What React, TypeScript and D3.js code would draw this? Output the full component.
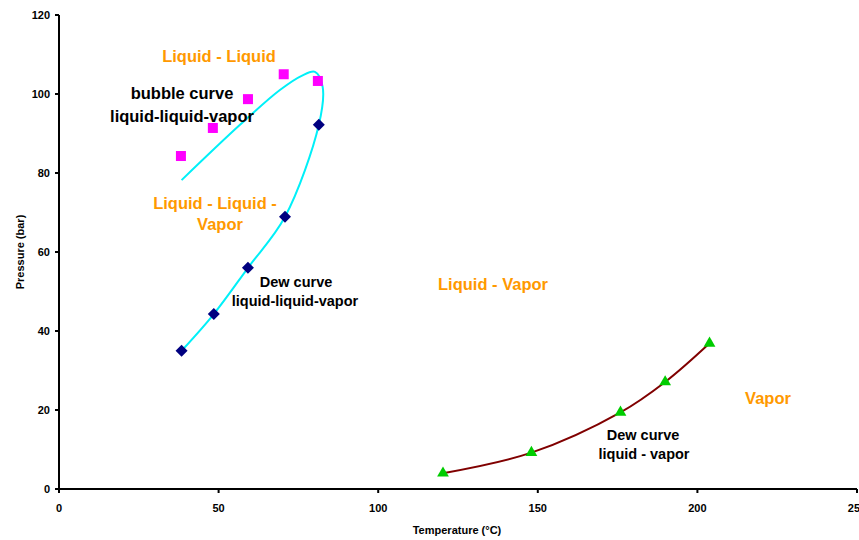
import React from "react";
import * as d3 from "d3";

// Phase-envelope data: temperature (°C) and pressure (bar)
const bubbleT = [38.2, 48.2, 59.2, 70.4, 81.1];
const bubbleP = [84.3, 91.4, 98.7, 105.0, 103.3];

const dewLLVT = [38.4, 48.5, 59.2, 70.8, 81.4];
const dewLLVP = [35.0, 44.3, 56.0, 68.9, 92.2];

// Smoothed three-phase boundary (bubble branch over the top, then dew branch down)
const envelopeT = [38.4, 56.7, 69.2, 76.0, 80.2, 82.6, 81.4, 70.8, 59.2, 48.5, 38.4];
const envelopeP = [78.2, 92.2, 101.0, 104.6, 105.6, 101.8, 92.2, 68.9, 56.0, 44.3, 35.0];

const dewLVT = [120.3, 148.0, 175.9, 189.9, 203.8];
const dewLVP = [4.0, 9.2, 19.4, 27.1, 36.9];

const xTicks = [0, 50, 100, 150, 200, 250];
const yTicks = [0, 20, 40, 60, 80, 100, 120];

const W = 859;
const H = 540;
const FONT = "Liberation Sans, Arial, sans-serif";
const ORANGE = "#FF9900";

export default function App() {
  const x = d3.scaleLinear().domain([0, 250]).range([59, 857]);
  const y = d3.scaleLinear().domain([0, 120]).range([489, 15]);

  const smooth = d3
    .line<[number, number]>()
    .x((d) => x(d[0]))
    .y((d) => y(d[1]))
    .curve(d3.curveCatmullRom.alpha(0.5));

  const envelope: [number, number][] = envelopeT.map((t, i) => [t, envelopeP[i]]);
  const lvCurve: [number, number][] = dewLVT.map((t, i) => [t, dewLVP[i]]);

  const sq = 10;
  const dm = 6;
  const tri = d3.symbol().type(d3.symbolTriangle).size(60)() as string;

  return (
    <svg
      width={W}
      height={H}
      style={{ position: "absolute", left: 0, top: 0, background: "#fff" }}
      fontFamily={FONT}
      fontWeight="bold"
    >
      {/* curves */}
      <path d={smooth(envelope) || ""} fill="none" stroke="#00F0F8" strokeWidth={2} />
      <path d={smooth(lvCurve) || ""} fill="none" stroke="#800000" strokeWidth={2} />

      {/* markers */}
      {bubbleT.map((t, i) => (
        <rect key={"b" + i} x={x(t) - sq / 2} y={y(bubbleP[i]) - sq / 2} width={sq} height={sq} fill="#FF00FF" />
      ))}
      {dewLLVT.map((t, i) => (
        <path
          key={"d" + i}
          d={`M${x(t)},${y(dewLLVP[i]) - dm}L${x(t) + dm},${y(dewLLVP[i])}L${x(t)},${y(dewLLVP[i]) + dm}L${x(t) - dm},${y(dewLLVP[i])}Z`}
          fill="#000080"
        />
      ))}
      {dewLVT.map((t, i) => (
        <path key={"t" + i} d={tri} transform={`translate(${x(t)},${y(dewLVP[i])})`} fill="#00CC00" />
      ))}

      {/* axes */}
      <line x1={x(0)} x2={x(0)} y1={y(120)} y2={y(0)} stroke="#000" strokeWidth={2} />
      <line x1={x(0)} x2={x(250)} y1={y(0)} y2={y(0)} stroke="#000" strokeWidth={2} />
      {yTicks.map((v) => (
        <g key={"yt" + v}>
          <line x1={x(0) - 4} x2={x(0)} y1={y(v)} y2={y(v)} stroke="#000" strokeWidth={2} />
          <text x={x(0) - 9} y={y(v)} dy="0.35em" textAnchor="end" fontSize={11}>
            {v}
          </text>
        </g>
      ))}
      {xTicks.map((v) => (
        <g key={"xt" + v}>
          <line x1={x(v)} x2={x(v)} y1={y(0)} y2={y(0) + 4} stroke="#000" strokeWidth={2} />
          <text x={x(v)} y={y(0) + 19} dy="0.35em" textAnchor="middle" fontSize={11}>
            {v}
          </text>
        </g>
      ))}
      <text x={457} y={530} dy="0.35em" textAnchor="middle" fontSize={11}>
        Temperature (°C)
      </text>
      <text transform="translate(20,252) rotate(-90)" dy="0.35em" textAnchor="middle" fontSize={11}>
        Pressure (bar)
      </text>

      {/* region labels */}
      <g fill={ORANGE} fontSize={16.5} textAnchor="middle">
        <text x={219} y={62}>Liquid - Liquid</text>
        <text x={215} y={209}>Liquid - Liquid -</text>
        <text x={220} y={230}>Vapor</text>
        <text x={493} y={290}>Liquid - Vapor</text>
        <text x={768} y={404}>Vapor</text>
      </g>

      {/* curve labels */}
      <g fill="#000" textAnchor="middle">
        <text x={182} y={99} fontSize={16.5}>bubble curve</text>
        <text x={182} y={122} fontSize={16.5}>liquid-liquid-vapor</text>
        <text x={296} y={287} fontSize={14.5}>Dew curve</text>
        <text x={295} y={306} fontSize={14.5}>liquid-liquid-vapor</text>
        <text x={643} y={440} fontSize={14.5}>Dew curve</text>
        <text x={644} y={459} fontSize={14.5}>liquid - vapor</text>
      </g>
    </svg>
  );
}
